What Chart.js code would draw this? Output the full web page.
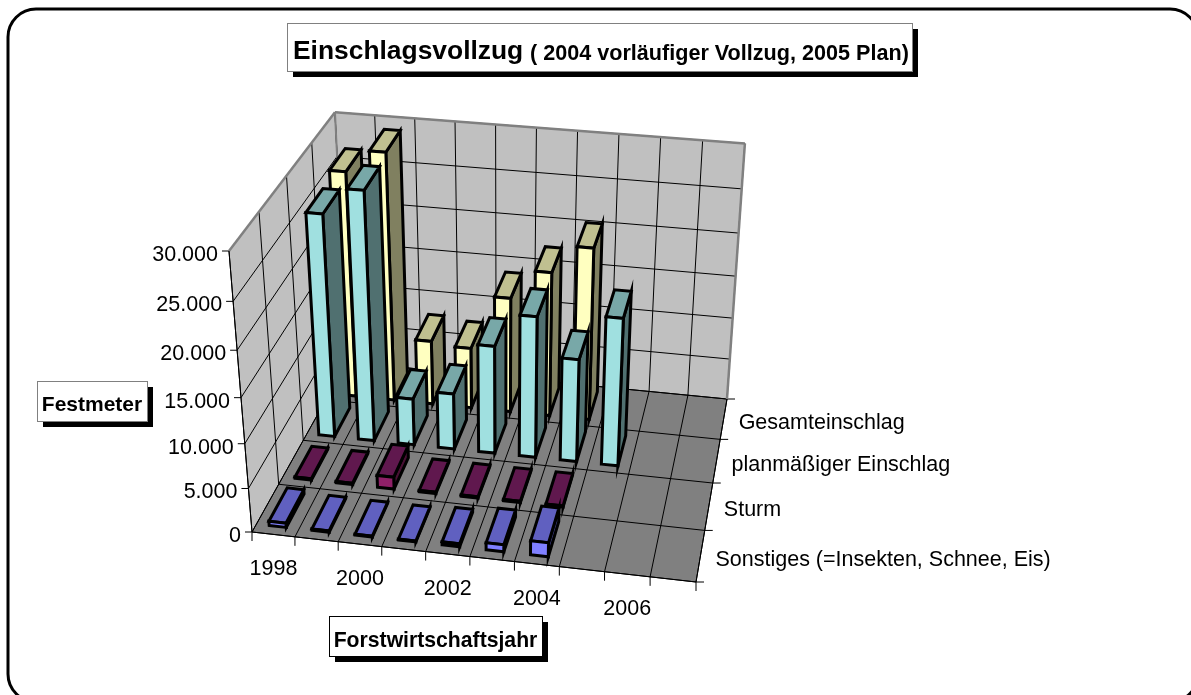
<!DOCTYPE html>
<html>
<head>
<meta charset="utf-8">
<style>
  html, body { margin: 0; padding: 0; background: #fff; overflow: hidden; }
  canvas { display: block; }
</style>
<script src="https://cdn.jsdelivr.net/npm/chart.js@4/dist/chart.umd.js"></script>
</head>
<body>
<canvas id="c" width="1191" height="695"></canvas>
<script>
const years = ['1998', '1999', '2000', '2001', '2002', '2003', '2004', '2005', '2006', '2007'];
const seriesNames = ['Sonstiges (=Insekten, Schnee, Eis)', 'Sturm', 'planmäßiger Einschlag', 'Gesamteinschlag'];
const sonstiges = [500, 150, 100, 100, 350, 800, 1600, null, null, null];
const sturm = [150, 150, 1400, 150, 150, 150, 150, null, null, null];
const planmaessig = [25600, 28500, 5500, 6600, 12600, 16400, 12000, 17100, null, null];
const gesamt = [26500, 29000, 7700, 7300, 13700, 17100, 20300, null, null, null];
const yTicks = [0, 5000, 10000, 15000, 20000, 25000, 30000];

// front, right, top faces of each series
const faceColors = [
  ['#8080ff', '#3c3c80', '#6060c0'],
  ['#8f2068', '#481034', '#60184e'],
  ['#a0e0e0', '#507070', '#78a8a8'],
  ['#ffffc0', '#808060', '#c0c090']
];

// corners of the floor and where the walls end
const A = [252, 532], B = [696, 582], C = [727, 399], D = [347, 362];
const wallTopFrontLeft = 251;
const VP = [503, 3598]; // vanishing point of the verticals

const dx1 = B[0] - C[0], dx2 = D[0] - C[0], sx = A[0] - B[0] + C[0] - D[0];
const dy1 = B[1] - C[1], dy2 = D[1] - C[1], sy = A[1] - B[1] + C[1] - D[1];
const den = dx1 * dy2 - dx2 * dy1;
const g = (sx * dy2 - dx2 * sy) / den, h = (dx1 * sy - sx * dy1) / den;
const ha = B[0] - A[0] + g * B[0], hb = D[0] - A[0] + h * D[0];
const hd = B[1] - A[1] + g * B[1], he = D[1] - A[1] + h * D[1];
const zs = (A[1] - wallTopFrontLeft) / (wallTopFrontLeft - VP[1]);

function project(u, v, z) {
  const w = g * u + h * v + 1 + z * zs;
  return [(ha * u + hb * v + A[0] + z * zs * VP[0]) / w, (hd * u + he * v + A[1] + z * zs * VP[1]) / w];
}

function poly(ctx, pts, fill, stroke, lw) {
  ctx.beginPath();
  pts.forEach((p, i) => i ? ctx.lineTo(p[0], p[1]) : ctx.moveTo(p[0], p[1]));
  ctx.closePath();
  if (fill) { ctx.fillStyle = fill; ctx.fill(); }
  if (stroke) { ctx.strokeStyle = stroke; ctx.lineWidth = lw; ctx.stroke(); }
}

function line(ctx, a, b, color, lw) {
  ctx.beginPath();
  ctx.moveTo(a[0], a[1]);
  ctx.lineTo(b[0], b[1]);
  ctx.strokeStyle = color;
  ctx.lineWidth = lw;
  ctx.stroke();
}

function label(ctx, text, x, y, align, font) {
  ctx.font = font;
  ctx.fillStyle = '#000';
  ctx.textAlign = align;
  ctx.textBaseline = 'alphabetic';
  ctx.fillText(text, x, y);
}

function box(ctx, x0, y0, x1, y1, border) {
  ctx.fillStyle = '#000';
  ctx.fillRect(x0 + 6, y0 + 6, x1 - x0, y1 - y0);
  ctx.fillStyle = '#fff';
  ctx.fillRect(x0, y0, x1 - x0, y1 - y0);
  ctx.strokeStyle = border;
  ctx.lineWidth = 1;
  ctx.strokeRect(x0 + 0.5, y0 + 0.5, x1 - x0, y1 - y0);
}

const tickFont = '21.5px "Liberation Sans"';

const scene = {
  id: 'scene',
  beforeDatasetsDraw(chart) {
    const ctx = chart.ctx;
    const { x, y, depth } = chart.scales;
    const uOf = i => (x.getPixelForValue(i) - x.left) / x.width;
    const vOf = i => (depth.getPixelForValue(i) - depth.left) / depth.width;
    const zOf = val => (y.bottom - y.getPixelForValue(val)) / y.height;
    const nx = years.length, nd = seriesNames.length;

    ctx.save();
    ctx.lineJoin = 'miter';

    // frame runs off the right and bottom of the picture
    ctx.beginPath();
    ctx.roundRect(8, 9, 1190, 693, 28);
    ctx.strokeStyle = '#000';
    ctx.lineWidth = 3;
    ctx.stroke();

    // walls and floor
    poly(ctx, [project(0, 0, 0), project(0, 1, 0), project(0, 1, 1), project(0, 0, 1)], '#c0c0c0');
    poly(ctx, [project(0, 1, 0), project(1, 1, 0), project(1, 1, 1), project(0, 1, 1)], '#c0c0c0');
    poly(ctx, [project(0, 0, 0), project(1, 0, 0), project(1, 1, 0), project(0, 1, 0)], '#808080');

    // grid
    yTicks.forEach(t => {
      const z = zOf(t);
      line(ctx, project(0, 0, z), project(0, 1, z), '#000', 1);
      line(ctx, project(0, 1, z), project(1, 1, z), '#000', 1);
      const p = project(0, 0, z);
      line(ctx, p, [p[0] - 7, p[1]], '#000', 1);
      label(ctx, t === 0 ? '0' : t.toLocaleString('de-DE'), p[0] - 11, p[1] + 10, 'right', tickFont);
    });
    for (let i = 0; i <= nx; i++) {
      const u = uOf(i - 0.5);
      line(ctx, project(u, 0, 0), project(u, 1, 0), '#000', 1);
      line(ctx, project(u, 1, 0), project(u, 1, 1), '#000', 1);
      const p = project(u, 0, 0);
      line(ctx, p, [p[0], p[1] + 9], '#000', 1);
    }
    for (let i = 0; i <= nd; i++) {
      const v = vOf(i - 0.5);
      line(ctx, project(0, v, 0), project(1, v, 0), '#000', 1);
      line(ctx, project(0, v, 0), project(0, v, 1), '#000', 1);
      const p = project(1, v, 0);
      line(ctx, p, [p[0] + 8, p[1]], '#000', 1);
    }

    // wall rim
    line(ctx, project(0, 0, 1), project(0, 1, 1), '#808080', 2.5);
    line(ctx, project(0, 1, 1), project(1, 1, 1), '#808080', 2.5);
    line(ctx, project(1, 1, 1), project(1, 1, 0), '#808080', 2.5);
    line(ctx, project(0, 1, 1), project(0, 1, 0), '#808080', 2);
    line(ctx, project(0, 0, 0), project(0, 0, 1), '#000', 1);
    line(ctx, project(0, 0, 0), project(1, 0, 0), '#000', 1);
    line(ctx, project(1, 0, 0), project(1, 1, 0), '#000', 1);

    // axis labels
    years.forEach((yr, i) => {
      if (i % 2) return;
      const p = project(uOf(i), 0, 0);
      label(ctx, yr, p[0], p[1] + 41, 'center', tickFont);
    });
    seriesNames.forEach((name, i) => {
      const p = project(1, vOf(i), 0);
      label(ctx, name, p[0] + 15, p[1] + 10, 'left', tickFont);
    });

    // bars, back row first, left to right
    const cellW = uOf(1) - uOf(0), cellD = vOf(1) - vOf(0);
    for (let d = nd - 1; d >= 0; d--) {
      const vals = chart.data.datasets[d].data;
      const [front, side, top] = faceColors[d];
      const v1 = vOf(d) - 0.34 * cellD, v2 = vOf(d) + 0.36 * cellD;
      vals.forEach((val, i) => {
        if (val === null) return;
        const u1 = uOf(i) - 0.2 * cellW, u2 = uOf(i) + 0.2 * cellW, z = zOf(val);
        poly(ctx, [project(u2, v1, 0), project(u2, v2, 0), project(u2, v2, z), project(u2, v1, z)], side, '#000', 3);
        poly(ctx, [project(u1, v1, z), project(u2, v1, z), project(u2, v2, z), project(u1, v2, z)], top, '#000', 3);
        poly(ctx, [project(u1, v1, 0), project(u2, v1, 0), project(u2, v1, z), project(u1, v1, z)], front, '#000', 3);
      });
    }

    // title and axis title boxes
    box(ctx, 287, 23, 912, 71, '#808080');
    label(ctx, 'Einschlagsvollzug', 293, 59, 'left', 'bold 26.4px "Liberation Sans"');
    label(ctx, '( 2004 vorläufiger Vollzug, 2005 Plan)', 530, 60, 'left', 'bold 21.6px "Liberation Sans"');
    box(ctx, 37, 381, 147, 421, '#808080');
    label(ctx, 'Festmeter', 92, 411, 'center', 'bold 21px "Liberation Sans"');
    box(ctx, 329, 616, 542, 656, '#000');
    label(ctx, 'Forstwirtschaftsjahr', 435.5, 647, 'center', 'bold 21.2px "Liberation Sans"');
    ctx.restore();
  }
};

new Chart(document.getElementById('c'), {
  type: 'bar',
  data: {
    labels: years,
    datasets: [
      { label: seriesNames[0], data: sonstiges, backgroundColor: 'transparent' },
      { label: seriesNames[1], data: sturm, backgroundColor: 'transparent' },
      { label: seriesNames[2], data: planmaessig, backgroundColor: 'transparent' },
      { label: seriesNames[3], data: gesamt, backgroundColor: 'transparent' }
    ]
  },
  options: {
    responsive: false,
    animation: false,
    layout: { padding: 0 },
    plugins: { legend: { display: false }, title: { display: false }, tooltip: { enabled: false } },
    scales: {
      x: { type: 'category', offset: true, display: false },
      y: { type: 'linear', min: 0, max: 30000, display: false },
      depth: { type: 'category', axis: 'x', labels: seriesNames, offset: true, display: false }
    }
  },
  plugins: [scene]
});
</script>
</body>
</html>
